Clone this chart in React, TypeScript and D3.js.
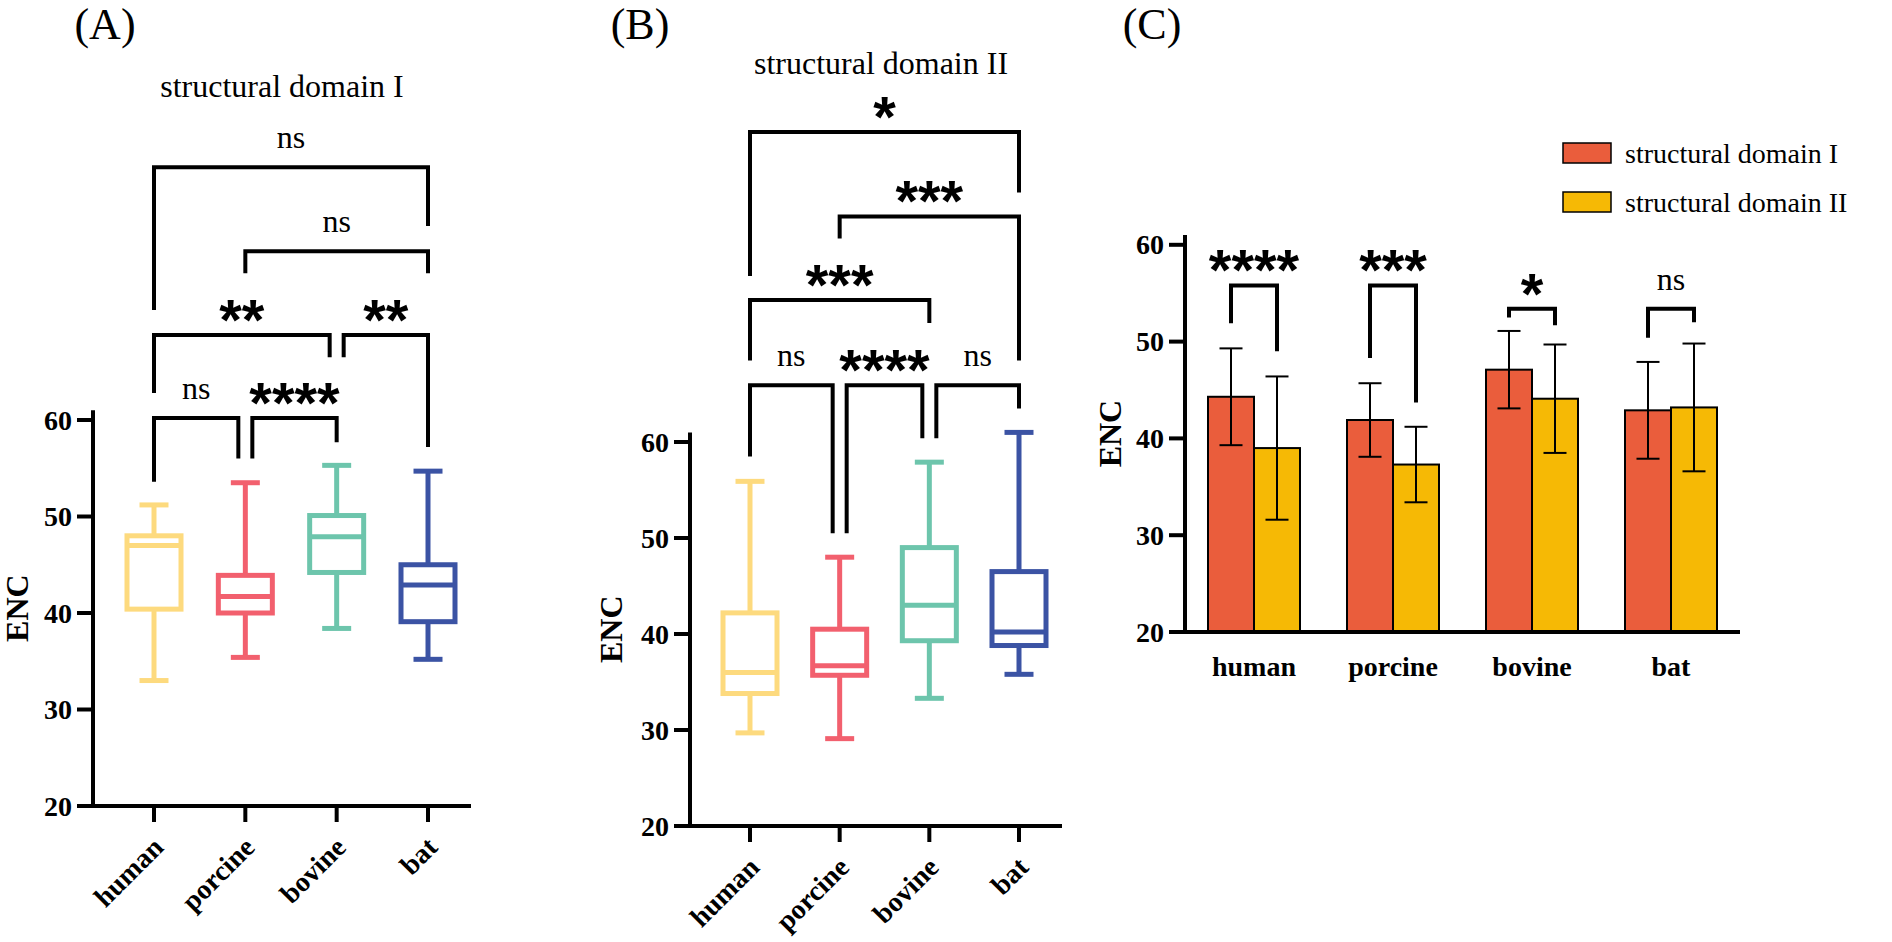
import React from 'react';
import * as d3 from 'd3';

const categories = ['human', 'porcine', 'bovine', 'bat'];
const yTicks = [20, 30, 40, 50, 60];
const boxColors = ['#FDDA7E', '#F2606E', '#6DC5AC', '#3B53A4'];

// [min, q1, median, q3, max]
const domainIStats = [
  [33.0, 40.4, 47.0, 48.0, 51.2],
  [35.4, 40.0, 41.7, 43.9, 53.5],
  [38.4, 44.2, 47.9, 50.1, 55.3],
  [35.2, 39.1, 42.9, 45.0, 54.7],
];
const domainIIStats = [
  [29.7, 33.8, 36.0, 42.2, 55.9],
  [29.1, 35.7, 36.7, 40.5, 48.0],
  [33.3, 39.3, 43.0, 49.0, 57.9],
  [35.8, 38.8, 40.2, 46.5, 61.0],
];

// comparison brackets: from / to category index, level and leg ends in ENC units
const domainIBrackets = [
  { from: 0, to: 3, level: 86.2, legs: [71.4, 80.1], label: 'ns' },
  { from: 1, to: 3, level: 77.5, legs: [75.2, 75.2], label: 'ns' },
  { from: 0, to: 2, level: 68.8, legs: [62.8, 66.5], label: '**' },
  { from: 2, to: 3, level: 68.8, legs: [66.5, 57.2], label: '**' },
  { from: 0, to: 1, level: 60.2, legs: [53.6, 56.0], label: 'ns' },
  { from: 1, to: 2, level: 60.2, legs: [56.0, 57.7], label: '****' },
];
const domainIIBrackets = [
  { from: 0, to: 3, level: 92.3, legs: [77.3, 86.0], label: '*' },
  { from: 1, to: 3, level: 83.5, legs: [81.2, 68.5], label: '***' },
  { from: 0, to: 2, level: 74.8, legs: [68.5, 72.4], label: '***' },
  { from: 0, to: 1, level: 65.9, legs: [58.5, 50.5], label: 'ns' },
  { from: 1, to: 2, level: 65.9, legs: [50.5, 60.4], label: '****' },
  { from: 2, to: 3, level: 65.9, legs: [60.4, 63.5], label: 'ns' },
];

// panel C: mean and SD per species
const seriesNames = ['structural domain I', 'structural domain II'];
const barColors = ['#EA5D3C', '#F6B905'];
const domainIMean = [44.3, 41.9, 47.1, 42.9];
const domainISd = [5.0, 3.8, 4.0, 5.0];
const domainIIMean = [39.0, 37.3, 44.1, 43.2];
const domainIISd = [7.4, 3.9, 5.6, 6.6];
const pairLevels = [55.8, 55.8, 53.4, 53.4];
const pairLegs = [[51.9, 49.0], [48.3, 43.7], [52.5, 51.7], [50.4, 52.0]];
const pairLabels = ['****', '***', '*', 'ns'];

const SERIF = '"Liberation Serif", "Times New Roman", serif';
const SANS = '"Liberation Sans", Arial, sans-serif';

type Bracket = { from: number; to: number; level: number; legs: number[]; label: string };

const SigLabel = ({ x, y, label }: { x: number; y: number; label: string }) =>
  label === 'ns' ? (
    <text x={x} y={y - 19} textAnchor="middle" fontFamily={SERIF} fontSize={32}>ns</text>
  ) : (
    <text x={x} y={y + 5} textAnchor="middle" fontFamily={SANS} fontWeight="bold" fontSize={58}>{label}</text>
  );

const YAxis = ({ y, axisX, label, labelX }: { y: d3.ScaleLinear<number, number>; axisX: number; label: string; labelX: number }) => {
  const [lo, hi] = y.domain();
  return (
    <g>
      <line x1={axisX} x2={axisX} y1={y(lo) + 2} y2={y(hi)} stroke="#000" strokeWidth={4} />
      {yTicks.map(t => (
        <g key={t}>
          <line x1={axisX - 16} x2={axisX} y1={y(t)} y2={y(t)} stroke="#000" strokeWidth={4} />
          <text x={axisX - 21} y={y(t)} dy="0.34em" textAnchor="end" fontFamily={SERIF} fontWeight="bold" fontSize={28}>{t}</text>
        </g>
      ))}
      <text transform={`translate(${labelX},${(y(lo) + y(hi)) / 2}) rotate(-90)`} textAnchor="middle"
        fontFamily={SERIF} fontWeight="bold" fontSize={32}>{label}</text>
    </g>
  );
};

interface BoxProps {
  stats: number[][];
  brackets: Bracket[];
  title: string;
  tag: string;
  tagX: number;
  titleX: number;
  titleY: number;
  axisX: number;
  axisEnd: number;
  firstX: number;
  lastX: number;
  yBottom: number;
  pxPerUnit: number;
  labelX: number;
}

const BoxPanel = (p: BoxProps) => {
  const y = d3.scaleLinear().domain([20, 61]).range([p.yBottom, p.yBottom - 41 * p.pxPerUnit]);
  const x = d3.scalePoint<string>().domain(categories).range([p.firstX, p.lastX]);
  const boxW = 54;
  const capW = 29;
  const bottom = y(20);
  return (
    <g>
      <text x={p.tagX} y={39} textAnchor="middle" fontFamily={SERIF} fontSize={44}>{p.tag}</text>
      <text x={p.titleX} y={p.titleY} textAnchor="middle" fontFamily={SERIF} fontSize={32}>{p.title}</text>
      <YAxis y={y} axisX={p.axisX} label="ENC" labelX={p.labelX} />
      <line x1={p.axisX - 2} x2={p.axisEnd} y1={bottom} y2={bottom} stroke="#000" strokeWidth={4} />
      {categories.map(c => (
        <g key={c}>
          <line x1={x(c)} x2={x(c)} y1={bottom} y2={bottom + 16} stroke="#000" strokeWidth={4} />
          <text transform={`translate(${(x(c) as number) + 11},${bottom + 43}) rotate(-45)`} textAnchor="end"
            fontFamily={SERIF} fontWeight="bold" fontSize={28}>{c}</text>
        </g>
      ))}
      {p.stats.map((s, i) => {
        const cx = x(categories[i]) as number;
        const col = boxColors[i];
        const [mn, q1, md, q3, mx] = s;
        return (
          <g key={i} stroke={col} strokeWidth={5} fill="none">
            <line x1={cx} x2={cx} y1={y(mx)} y2={y(q3)} />
            <line x1={cx} x2={cx} y1={y(q1)} y2={y(mn)} />
            <line x1={cx - capW / 2} x2={cx + capW / 2} y1={y(mx)} y2={y(mx)} />
            <line x1={cx - capW / 2} x2={cx + capW / 2} y1={y(mn)} y2={y(mn)} />
            <rect x={cx - boxW / 2} y={y(q3)} width={boxW} height={y(q1) - y(q3)} />
            <line x1={cx - boxW / 2} x2={cx + boxW / 2} y1={y(md)} y2={y(md)} />
          </g>
        );
      })}
      {p.brackets.map((b, i) => {
        const shareL = p.brackets.some(o => o !== b && o.level === b.level && o.to === b.from);
        const shareR = p.brackets.some(o => o !== b && o.level === b.level && o.from === b.to);
        const xl = (x(categories[b.from]) as number) + (shareL ? 7 : 0);
        const xr = (x(categories[b.to]) as number) - (shareR ? 7 : 0);
        const ly = y(b.level);
        return (
          <g key={i}>
            <path d={`M${xl},${y(b.legs[0])}V${ly}H${xr}V${y(b.legs[1])}`} fill="none" stroke="#000" strokeWidth={4} />
            <SigLabel x={(xl + xr) / 2} y={ly} label={b.label} />
          </g>
        );
      })}
    </g>
  );
};

const BarPanel = () => {
  const axisX = 1185;
  const y = d3.scaleLinear().domain([20, 61]).range([632, 632 - 41 * 9.68]);
  const x = d3.scalePoint<string>().domain(categories).range([1254, 1671]);
  const sub = d3.scaleBand<string>().domain(seriesNames).range([-46, 46]);
  const means = [domainIMean, domainIIMean];
  const sds = [domainISd, domainIISd];
  const bottom = y(20);
  return (
    <g>
      <text x={1152} y={39} textAnchor="middle" fontFamily={SERIF} fontSize={44}>(C)</text>
      <YAxis y={y} axisX={axisX} label="ENC" labelX={1121} />
      {categories.map((c, i) => (
        <g key={c}>
          {seriesNames.map((s, k) => {
            const bx = (x(c) as number) + (sub(s) as number);
            const bw = sub.bandwidth();
            const m = means[k][i];
            const sd = sds[k][i];
            const mid = bx + bw / 2;
            return (
              <g key={s}>
                <rect x={bx} y={y(m)} width={bw} height={bottom - y(m)} fill={barColors[k]} stroke="#000" strokeWidth={2} />
                <g stroke="#000" strokeWidth={2}>
                  <line x1={mid} x2={mid} y1={y(m + sd)} y2={y(m - sd)} />
                  <line x1={mid - 11.5} x2={mid + 11.5} y1={y(m + sd)} y2={y(m + sd)} />
                  <line x1={mid - 11.5} x2={mid + 11.5} y1={y(m - sd)} y2={y(m - sd)} />
                </g>
              </g>
            );
          })}
          <text x={x(c)} y={bottom + 44} textAnchor="middle" fontFamily={SERIF} fontWeight="bold" fontSize={28}>{c}</text>
        </g>
      ))}
      <line x1={axisX - 2} x2={1740} y1={bottom} y2={bottom} stroke="#000" strokeWidth={4} />
      {categories.map((c, i) => {
        const xl = (x(c) as number) + (sub(seriesNames[0]) as number) + sub.bandwidth() / 2;
        const xr = (x(c) as number) + (sub(seriesNames[1]) as number) + sub.bandwidth() / 2;
        const ly = y(pairLevels[i]);
        return (
          <g key={c}>
            <path d={`M${xl},${y(pairLegs[i][0])}V${ly}H${xr}V${y(pairLegs[i][1])}`} fill="none" stroke="#000" strokeWidth={4} />
            <SigLabel x={(xl + xr) / 2} y={ly} label={pairLabels[i]} />
          </g>
        );
      })}
      {seriesNames.map((s, k) => (
        <g key={s}>
          <rect x={1563} y={143 + k * 49} width={48} height={20} fill={barColors[k]} stroke="#000" strokeWidth={1.5} />
          <text x={1625} y={163 + k * 49} fontFamily={SERIF} fontSize={28}>{s}</text>
        </g>
      ))}
    </g>
  );
};

export default function App() {
  return (
    <svg width={1892} height={942} style={{ position: 'absolute', left: 0, top: 0, background: '#fff' }}>
      <rect width={1892} height={942} fill="#fff" />
      <BoxPanel stats={domainIStats} brackets={domainIBrackets} title="structural domain I" tag="(A)" tagX={105}
        titleX={282} titleY={97} axisX={93} axisEnd={471} firstX={154} lastX={428} yBottom={806} pxPerUnit={9.65} labelX={28} />
      <BoxPanel stats={domainIIStats} brackets={domainIIBrackets} title="structural domain II" tag="(B)" tagX={640}
        titleX={881} titleY={74} axisX={690} axisEnd={1062} firstX={750} lastX={1019} yBottom={826} pxPerUnit={9.6} labelX={622} />
      <BarPanel />
    </svg>
  );
}
